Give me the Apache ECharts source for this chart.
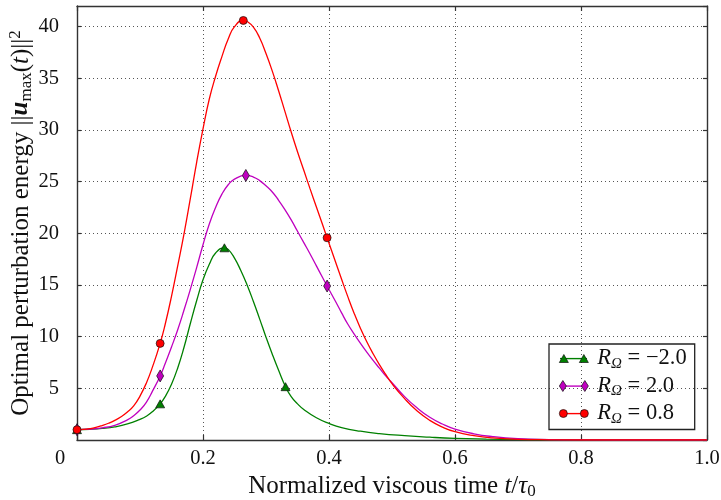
<!DOCTYPE html>
<html><head><meta charset="utf-8">
<script src="https://cdn.jsdelivr.net/npm/echarts@6/dist/echarts.min.js"></script>
<style>html,body{margin:0;padding:0;background:#fff}#c{width:721px;height:500px}</style>
</head><body><div id="c"></div>
<script>
// ---- data ----
const xTickValues = [0, 0.2, 0.4, 0.6, 0.8, 1.0];
const xTickLabels = ['0', '0.2', '0.4', '0.6', '0.8', '1.0'];
const yTickValues = [5, 10, 15, 20, 25, 30, 35, 40];

const seriesNames = ['RΩ = −2.0', 'RΩ = 2.0', 'RΩ = 0.8'];
const legendValues = ['−2.0', '2.0', '0.8'];

const greenT = [0, 0.02, 0.04, 0.06, 0.08, 0.10, 0.11, 0.12, 0.132, 0.14, 0.15, 0.16, 0.17, 0.18, 0.19, 0.20, 0.21, 0.22, 0.234, 0.24, 0.25, 0.26, 0.27, 0.28, 0.29, 0.30, 0.31, 0.32, 0.331, 0.34, 0.35, 0.36, 0.38, 0.40, 0.42, 0.45, 0.48, 0.52, 0.56, 0.60, 0.65, 0.70, 0.80, 0.90, 1.0];
const greenV = [1.0, 1.04, 1.12, 1.27, 1.55, 2.0, 2.3, 2.75, 3.5, 4.2, 5.4, 7.0, 9.0, 11.3, 13.5, 15.5, 17.0, 18.1, 18.6, 18.45, 17.6, 16.4, 15.0, 13.4, 11.7, 9.95, 8.3, 6.75, 5.16, 4.2, 3.5, 2.95, 2.15, 1.6, 1.2, 0.85, 0.62, 0.42, 0.27, 0.16, 0.09, 0.05, 0.01, 0, 0];
const greenMarkT = [0, 0.132, 0.234, 0.331];

const magentaT = [0, 0.02, 0.04, 0.06, 0.08, 0.09, 0.10, 0.11, 0.12, 0.132, 0.14, 0.15, 0.16, 0.17, 0.18, 0.19, 0.20, 0.21, 0.22, 0.23, 0.24, 0.25, 0.268, 0.28, 0.29, 0.30, 0.31, 0.32, 0.33, 0.34, 0.35, 0.36, 0.37, 0.38, 0.39, 0.397, 0.41, 0.42, 0.43, 0.44, 0.45, 0.46, 0.47, 0.48, 0.49, 0.50, 0.52, 0.54, 0.56, 0.58, 0.60, 0.63, 0.66, 0.70, 0.75, 0.80, 0.90, 1.0];
const magentaV = [1.0, 1.05, 1.18, 1.42, 1.95, 2.35, 2.9, 3.65, 4.75, 6.2, 7.4, 9.0, 10.7, 12.6, 14.6, 16.7, 18.9, 20.9, 22.5, 23.8, 24.7, 25.25, 25.6, 25.45, 25.1, 24.6, 24.0, 23.2, 22.3, 21.3, 20.2, 19.1, 18.0, 16.85, 15.7, 14.9, 13.45, 12.3, 11.2, 10.25, 9.35, 8.5, 7.7, 6.95, 6.2, 5.55, 4.2, 3.1, 2.2, 1.55, 1.06, 0.6, 0.33, 0.13, 0.04, 0.01, 0, 0];
const magentaMarkT = [0, 0.132, 0.268, 0.397];

const redT = [0, 0.01, 0.02, 0.03, 0.04, 0.05, 0.06, 0.07, 0.08, 0.09, 0.10, 0.11, 0.12, 0.132, 0.14, 0.15, 0.16, 0.17, 0.18, 0.19, 0.20, 0.21, 0.22, 0.23, 0.24, 0.25, 0.264, 0.27, 0.28, 0.29, 0.30, 0.31, 0.32, 0.33, 0.34, 0.35, 0.36, 0.37, 0.38, 0.39, 0.397, 0.41, 0.42, 0.43, 0.44, 0.45, 0.46, 0.47, 0.48, 0.49, 0.50, 0.52, 0.54, 0.56, 0.58, 0.60, 0.63, 0.66, 0.70, 0.75, 0.80, 0.90, 1.0];
const redV = [1.0, 1.03, 1.1, 1.22, 1.4, 1.62, 1.9, 2.25, 2.7, 3.3, 4.25, 5.5, 7.1, 9.35, 11.2, 13.9, 16.9, 20.0, 23.4, 26.9, 30.1, 33.0, 35.2, 37.1, 38.8, 40.0, 40.6, 40.5, 39.95, 38.9, 37.4, 35.7, 33.8, 31.8, 29.8, 27.9, 26.1, 24.3, 22.55, 20.8, 19.57, 17.3, 15.55, 13.85, 12.25, 10.8, 9.5, 8.35, 7.3, 6.35, 5.45, 4.0, 2.8, 1.9, 1.25, 0.8, 0.42, 0.2, 0.07, 0.02, 0, 0, 0];
const redMarkT = [0, 0.132, 0.264, 0.397];

// ---- styling ----
const FONT = "'Liberation Serif', 'DejaVu Serif', serif";
const colors = ['#008000', '#bf00bf', '#ff0000'];
const symbols = ['triangle', 'diamond', 'circle'];
const symbolSizes = [[9, 8], [7, 12], [8, 8]];

function buildData(T, V, M, sym) {
  return T.map((t, i) => ({
    value: [t, V[i]],
    symbol: M.indexOf(t) >= 0 ? sym : 'none'
  }));
}

const curves = [
  buildData(greenT, greenV, greenMarkT, symbols[0]),
  buildData(magentaT, magentaV, magentaMarkT, symbols[1]),
  buildData(redT, redV, redMarkT, symbols[2])
];

const series = curves.map((d, i) => ({
  name: seriesNames[i],
  type: 'line',
  data: d,
  smooth: 0.5,
  showSymbol: true,
  showAllSymbol: true,
  symbolSize: symbolSizes[i],
  lineStyle: { color: colors[i], width: 1.3 },
  itemStyle: { color: colors[i], borderColor: '#111', borderWidth: 0.7 },
  emphasis: { disabled: true },
  z: 3 + i
}));

const markerIcons = [
  'path://M0,9.5L4.5,1.5L9,9.5Z M20,9.5L24.5,1.5L29,9.5Z M14.5,0 M14.5,11',
  'path://M3.5,0L7,5.5L3.5,11L0,5.5Z M25.5,0L29,5.5L25.5,11L22,5.5Z',
  'path://M0,5.5A4,4 0 1,0 8,5.5A4,4 0 1,0 0,5.5Z M21,5.5A4,4 0 1,0 29,5.5A4,4 0 1,0 21,5.5Z M14.5,0 M14.5,11'
];
const lineIcon = 'path://M1,4.9L28,4.9L28,6.3L1,6.3Z M0,0 M29,11';

function legendRich(color) {
  return {
    r: { fontFamily: FONT, fontStyle: 'italic', fontSize: 22.5, lineHeight: 26, color: color },
    s: { fontFamily: FONT, fontStyle: 'italic', fontSize: 15, lineHeight: 12, verticalAlign: 'bottom', color: color },
    n: { fontFamily: FONT, fontSize: 22.5, lineHeight: 26, color: color }
  };
}
function legendFormatter(name) {
  const i = seriesNames.indexOf(name);
  return '{r|R}{s|Ω}{n| = ' + legendValues[i] + '}';
}

const legendCommon = {
  orient: 'vertical',
  left: 549,
  top: 344,
  itemWidth: 29,
  itemHeight: 11,
  itemGap: 3,
  padding: [3, 8, 3, 10],
  selectedMode: false,
  formatter: legendFormatter
};

const TITLE = 25;
const option = {
  animation: false,
  backgroundColor: '#ffffff',
  grid: { left: 77, right: 14, top: 6, bottom: 60, containLabel: false, outerBoundsMode: 'none' },
  legend: [
    Object.assign({}, legendCommon, {
      z: 10,
      data: seriesNames.map(n => ({ name: n, icon: lineIcon })),
      itemStyle: { borderWidth: 0 },
      textStyle: { color: 'rgba(0,0,0,0)', padding: [0, 0, 0, 4], rich: legendRich('rgba(0,0,0,0)') }
    }),
    Object.assign({}, legendCommon, {
      z: 11,
      borderColor: '#222',
      borderWidth: 1.3,
      backgroundColor: 'rgba(255,255,255,0)',
      data: seriesNames.map((n, i) => ({ name: n, icon: markerIcons[i] })),
      itemStyle: { borderColor: '#111', borderWidth: 0.7 },
      textStyle: { color: '#111', padding: [0, 0, 0, 4], rich: legendRich('#111') }
    })
  ],
  xAxis: [
    {
      type: 'value', min: 0, max: 1, interval: 0.2, position: 'bottom',
      name: '{a|Normalized viscous time }{i|t}{a|/}{i|τ}{sub|0}',
      nameLocation: 'middle', nameGap: 31,
      nameTextStyle: {
        fontFamily: FONT, fontSize: TITLE, color: '#111',
        rich: {
          a: { fontFamily: FONT, fontSize: TITLE, lineHeight: 28, color: '#111' },
          i: { fontFamily: FONT, fontSize: TITLE, fontStyle: 'italic', lineHeight: 28, color: '#111' },
          sub: { fontFamily: FONT, fontSize: 17, lineHeight: 13, verticalAlign: 'bottom', color: '#111' }
        }
      },
      axisLine: { show: true, onZero: false, lineStyle: { color: '#333', width: 1.4 } },
      axisTick: { show: true, inside: true, length: 5, lineStyle: { color: '#333', width: 1.2 } },
      axisLabel: {
        margin: 8, color: '#111', fontFamily: FONT, fontSize: 20.5,
        formatter: function (v) {
          const k = xTickValues.findIndex(x => Math.abs(x - v) < 1e-9);
          const s = k >= 0 ? xTickLabels[k] : '';
          return v === 0 ? '{z|' + s + '}' : s;
        },
        rich: { z: { fontFamily: FONT, fontSize: 20.5, color: '#111', padding: [0, 34, 0, 0] } }
      },
      splitLine: { show: true, lineStyle: { color: '#555', width: 1, type: [1, 3] } }
    },
    {
      type: 'value', min: 0, max: 1, interval: 0.2, position: 'top',
      axisLine: { show: true, onZero: false, lineStyle: { color: '#333', width: 1.4 } },
      axisTick: { show: true, inside: true, length: 5, lineStyle: { color: '#333', width: 1.2 } },
      axisLabel: { show: false },
      splitLine: { show: false }
    }
  ],
  yAxis: [
    {
      type: 'value', min: 0, max: 42, interval: 5, position: 'left',
      name: '{a|Optimal perturbation energy ||}{u|u}{sub|max}{a|(}{i|t}{a|)||}{sup|2}',
      nameLocation: 'middle', nameGap: 42, nameMoveOverlap: false,
      nameTextStyle: {
        fontFamily: FONT, fontSize: TITLE, color: '#111',
        rich: {
          a: { fontFamily: FONT, fontSize: TITLE, lineHeight: 28, color: '#111' },
          u: { fontFamily: FONT, fontSize: TITLE, fontStyle: 'italic', fontWeight: 'bold', lineHeight: 28, color: '#111' },
          i: { fontFamily: FONT, fontSize: TITLE, fontStyle: 'italic', lineHeight: 28, color: '#111' },
          sub: { fontFamily: FONT, fontSize: 17, lineHeight: 13, verticalAlign: 'bottom', color: '#111' },
          sup: { fontFamily: FONT, fontSize: 17, lineHeight: 13, verticalAlign: 'top', color: '#111' }
        }
      },
      axisLine: { show: true, onZero: false, lineStyle: { color: '#333', width: 1.4 } },
      axisTick: { show: true, inside: true, length: 4, lineStyle: { color: '#333', width: 1.2 } },
      axisLabel: {
        margin: 18, color: '#111', fontFamily: FONT, fontSize: 20.5,
        showMinLabel: false, showMaxLabel: false,
        formatter: function (v) { return yTickValues.indexOf(v) >= 0 ? String(v) : ''; }
      },
      splitLine: { show: true, lineStyle: { color: '#555', width: 1, type: [1, 3] } }
    },
    {
      type: 'value', min: 0, max: 42, interval: 5, position: 'right',
      axisLine: { show: true, onZero: false, lineStyle: { color: '#333', width: 1.4 } },
      axisTick: { show: true, inside: true, length: 4, lineStyle: { color: '#333', width: 1.2 } },
      axisLabel: { show: false },
      splitLine: { show: false }
    }
  ],
  series: series
};

const chart = echarts.init(document.getElementById('c'), null, { renderer: 'canvas' });
chart.setOption(option);
</script>
</body></html>
